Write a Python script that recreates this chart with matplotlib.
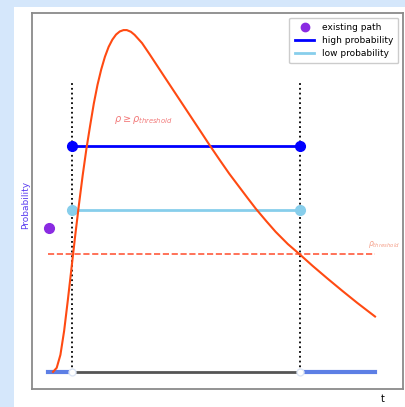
import matplotlib
matplotlib.use("Agg")
import matplotlib.pyplot as plt
from matplotlib.patches import Rectangle
from matplotlib.lines import Line2D

# Curve
curve_t = [0.0, 0.1, 0.2, 0.3, 0.4, 0.5, 0.6, 0.7, 0.8, 0.9, 1.0, 1.1, 1.2, 1.3,
           1.4, 1.5, 1.6, 1.7, 1.8, 1.9, 1.99, 2.1, 2.2, 2.4, 2.6, 2.8, 3.0, 3.25,
           3.5, 3.75, 4.0, 4.23, 4.5, 4.75, 5.0, 5.25, 5.47, 5.75, 6.0, 6.33, 6.66,
           7.0, 7.4, 7.8, 8.2, 8.68]
curve_p = [0.0, 0.012, 0.05, 0.12, 0.21, 0.305, 0.40, 0.49, 0.575, 0.652, 0.72, 0.785,
           0.84, 0.885, 0.922, 0.951, 0.972, 0.987, 0.996, 1.0, 1.0, 0.995, 0.986,
           0.962, 0.930, 0.897, 0.864, 0.823, 0.782, 0.741, 0.700, 0.662, 0.619,
           0.580, 0.544, 0.508, 0.477, 0.441, 0.410, 0.374, 0.343, 0.310, 0.273,
           0.237, 0.202, 0.162]

t_start, t1, t2, t_end = -0.13, 0.51, 6.66, 8.68
p_high = 0.661
p_low = 0.474
p_threshold = 0.345
p_existing = 0.42
p_vline_top = 0.848

fig = plt.figure(figsize=(4.05, 4.07), dpi=100)
fig.patch.set_facecolor('#d5e7fb')
fig.add_artist(Rectangle((14/405, 0), 1, (407-7)/407, transform=fig.transFigure,
                         facecolor='white', edgecolor='none', zorder=0))

ax = fig.add_axes([32/405, 18/407, 371/405, 376/407])
ax.set_xlim(-0.566, 9.434)
ax.set_ylim(-0.05, 1.05)

# dotted verticals
for tv in (t1, t2):
    ax.plot([tv, tv], [0, p_vline_top], color='black', linestyle=':', linewidth=1.3, zorder=2)

# baseline
ax.plot([t1, t2], [0, 0], color='#555555', linewidth=2, zorder=2)
ax.plot([t_start, t1], [0, 0], color='royalblue', linewidth=3, alpha=0.85, zorder=2)
ax.plot([t2, t_end], [0, 0], color='royalblue', linewidth=3, alpha=0.85, zorder=2)
ax.plot([t1, t2], [0, 0], 'o', markersize=5, markerfacecolor='white',
        markeredgecolor='#dde6f5', zorder=4)

# threshold
ax.plot([t_start, t_end], [p_threshold, p_threshold], color='#ff5a3c', linestyle='--',
        linewidth=1.2, zorder=2)

# high / low probability
ax.plot([t1, t2], [p_high, p_high], color='blue', linewidth=2, marker='o',
        markersize=7, zorder=3)
ax.plot([t1, t2], [p_low, p_low], color='skyblue', linewidth=2, marker='o',
        markersize=7, zorder=3)

# existing path point
ax.plot([t_start + 0.02], [p_existing], 'o', color='blueviolet', markersize=7, zorder=3)

# curve
ax.plot(curve_t, curve_p, color='#ff4a12', linewidth=1.5, zorder=3)

ax.text(1.64, 0.737, r'$\rho\geq\rho_{threshold}$', color='#f27a7a', fontsize=7,
        va='center', ha='left')
ax.text(8.5, 0.372, r'$\rho_{threshold}$', color='#f5a08a', fontsize=5.5,
        va='center', ha='left')

ax.set_xticks([])
ax.set_yticks([])
for s in ax.spines.values():
    s.set_color('#8a8a8a')
    s.set_linewidth(1.3)

ax.set_ylabel('Probability', color='#5a3cf0', fontsize=6.5)
ax.yaxis.set_label_coords(-0.006, 0.49)
ax.set_xlabel('t', fontsize=7)
ax.xaxis.set_label_coords(0.946, -0.012)

handles = [
    Line2D([], [], linestyle='none', marker='o', color='blueviolet', markersize=6, label='existing path'),
    Line2D([], [], color='blue', linewidth=2, label='high probability'),
    Line2D([], [], color='skyblue', linewidth=2, label='low probability'),
]
ax.legend(handles=handles, loc='upper right', fontsize=6.5, framealpha=1,
          handlelength=2.2, borderpad=0.6, labelspacing=0.45)

fig.savefig('out.png', dpi=100)
